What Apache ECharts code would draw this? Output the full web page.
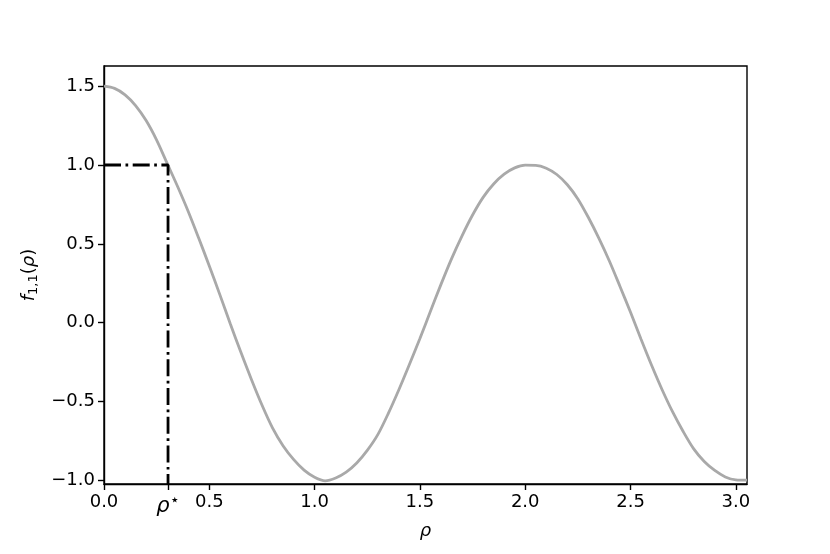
<!DOCTYPE html>
<html>
<head>
<meta charset="utf-8">
<script src="https://cdn.jsdelivr.net/npm/echarts@6/dist/echarts.min.js"></script>
<style>
  html, body { margin: 0; padding: 0; background: #fff; }
  #chart { width: 830px; height: 554px; }
</style>
</head>
<body>
<div id="chart"></div>
<script>
// curve, every 0.05 in rho
const rho = [0, 0.05, 0.1, 0.15, 0.2, 0.25, 0.3, 0.35, 0.4, 0.45, 0.5, 0.55, 0.6, 0.65, 0.7, 0.75,
  0.8, 0.85, 0.9, 0.95, 1.0, 1.05, 1.1, 1.15, 1.2, 1.25, 1.3, 1.35, 1.4, 1.45, 1.5, 1.55, 1.6, 1.65,
  1.7, 1.75, 1.8, 1.85, 1.9, 1.95, 2.0, 2.05, 2.1, 2.15, 2.2, 2.25, 2.3, 2.35, 2.4, 2.45, 2.5, 2.55,
  2.6, 2.65, 2.7, 2.75, 2.8, 2.85, 2.9, 2.95, 3.0, 3.053]
const f11 = [1.5, 1.486, 1.445, 1.377, 1.282, 1.158, 1.01, 0.862, 0.705, 0.535, 0.36, 0.178, -0.008,
  -0.188, -0.36, -0.522, -0.667, -0.78, -0.867, -0.935, -0.98, -1.003, -0.985, -0.948, -0.89, -0.81,
  -0.71, -0.575, -0.425, -0.265, -0.1, 0.072, 0.243, 0.405, 0.551, 0.683, 0.795, 0.88, 0.942, 0.982,
  0.999, 0.998, 0.98, 0.94, 0.875, 0.785, 0.667, 0.535, 0.39, 0.23, 0.066, -0.105, -0.27, -0.425,
  -0.566, -0.69, -0.8, -0.88, -0.937, -0.978, -0.997, -0.999]

const rhoStar = 0.304
const fStar = 1.0
const xTicks = [0, rhoStar, 0.5, 1.0, 1.5, 2.0, 2.5, 3.0]
const yTicks = [-1.0, -0.5, 0.0, 0.5, 1.0, 1.5]
const xMin = 0, xMax = 3.053
const yMin = -1.023, yMax = 1.628

const font = 'DejaVu Sans'
const dashDot = [17, 4.5, 2.7, 4.5]

function fmt (v) {
  const s = Math.abs(v).toFixed(1)
  return v < 0 ? '\u2212' + s : s
}

const chart = echarts.init(document.getElementById('chart'))
const option = {
  animation: false,
  grid: {
    left: 104,
    right: 83,
    top: 66,
    bottom: 70,
    show: true,
    borderColor: '#000',
    borderWidth: 1.4
  },
  xAxis: {
    type: 'value',
    min: xMin,
    max: xMax,
    name: '{i|ρ}',
    nameLocation: 'middle',
    nameGap: 34,
    nameTextStyle: {
      rich: { i: { fontFamily: font, fontStyle: 'italic', fontSize: 18, color: '#000' } }
    },
    splitLine: { show: false },
    axisLine: { onZero: false, lineStyle: { color: '#000', width: 1.4 } },
    axisTick: {
      customValues: xTicks,
      length: 6,
      lineStyle: { color: '#000', width: 1.4 }
    },
    axisLabel: {
      customValues: xTicks,
      margin: 9,
      fontFamily: font,
      fontSize: 18,
      color: '#000',
      formatter: v => (Math.abs(v - rhoStar) < 1e-6 ? '{i|ρ}{s|⋆}' : fmt(v)),
      rich: {
        i: { fontFamily: font, fontStyle: 'italic', fontSize: 21, color: '#000' },
        s: { fontFamily: font, fontSize: 16, color: '#000', padding: [0, 0, 12, 0] }
      }
    }
  },
  yAxis: {
    type: 'value',
    min: yMin,
    max: yMax,
    name: '{i|f}{sub|1,1}{n|(}{i|ρ}{n|)}',
    nameLocation: 'middle',
    nameGap: 64,
    nameTextStyle: {
      rich: {
        i: { fontFamily: font, fontStyle: 'italic', fontSize: 18, color: '#000' },
        n: { fontFamily: font, fontSize: 18, color: '#000' },
        sub: { fontFamily: font, fontSize: 13, color: '#000', padding: [8, 0, 0, 0] }
      }
    },
    splitLine: { show: false },
    axisLine: { show: true, onZero: false, lineStyle: { color: '#000', width: 1.4 } },
    axisTick: {
      show: true,
      customValues: yTicks,
      length: 6,
      lineStyle: { color: '#000', width: 1.4 }
    },
    axisLabel: {
      customValues: yTicks,
      margin: 9,
      fontFamily: font,
      fontSize: 18,
      color: '#000',
      formatter: v => fmt(v)
    }
  },
  series: [
    {
      type: 'line',
      data: rho.map((x, i) => [x, f11[i]]),
      smooth: 0.3,
      showSymbol: false,
      lineStyle: { color: '#a9a9a9', width: 2.8 },
      z: 2
    },
    {
      type: 'line',
      data: [[xMin, fStar], [rhoStar, fStar], [rhoStar, yMin]],
      showSymbol: false,
      lineStyle: { color: '#000', width: 2.8, type: dashDot },
      z: 3
    }
  ]
}
chart.setOption(option)
</script>
</body>
</html>
